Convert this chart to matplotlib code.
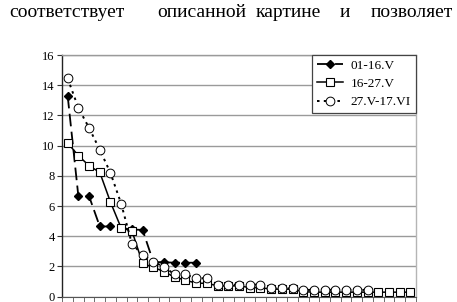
import matplotlib
matplotlib.use("Agg")
import matplotlib.pyplot as plt
import numpy as np

# ---- data ----
series_labels = ["01-16.V", "16-27.V", "27.V-17.VI"]
s1 = [13.3, 6.65, 6.65, 4.65, 4.65, 4.55, 4.45, 4.42, 2.3, 2.28, 2.25, 2.25, 2.25]
s2 = [10.18, 9.34, 8.67, 8.23, 6.26, 4.54, 4.36, 2.21, 1.95, 1.66, 1.29, 1.1, 0.89,
      0.89, 0.72, 0.72, 0.72, 0.6, 0.6, 0.5, 0.5, 0.5, 0.33, 0.3, 0.3, 0.3, 0.3,
      0.3, 0.3, 0.3, 0.3, 0.3, 0.3]
s3 = [14.45, 12.5, 11.17, 9.73, 8.19, 6.15, 3.5, 2.77, 2.32, 1.97, 1.47, 1.47, 1.22,
      1.22, 0.8, 0.8, 0.8, 0.8, 0.8, 0.55, 0.55, 0.55, 0.45, 0.45, 0.45, 0.45, 0.45,
      0.45, 0.45]
n_categories = 33
yticks = [0, 2, 4, 6, 8, 10, 12, 14, 16]
header_words = ["соответствует", "описанной", "картине", "и", "позволяет"]

plt.rcParams['font.family'] = ['Liberation Serif', 'DejaVu Serif']

W, H = 457, 302
fig = plt.figure(figsize=(W / 100, H / 100), dpi=100)
ax = fig.add_axes([62.3 / W, (H - 296.7) / H, (415.7 - 62.3) / W, (296.7 - 55) / H])

x1 = np.arange(len(s1))
x2 = np.arange(len(s2))
x3 = np.arange(len(s3))

ax.plot(x1, s1, color='black', lw=1.3, linestyle=(0, (7, 3)), marker='D',
        markersize=4.5, markerfacecolor='black', markeredgecolor='black',
        label=series_labels[0], zorder=3)
ax.plot(x2, s2, color='black', lw=1.1, linestyle='-', marker='s',
        markersize=6, markerfacecolor='white', markeredgecolor='black',
        markeredgewidth=0.8, label=series_labels[1], zorder=4)
ax.plot(x3, s3, color='black', lw=1.4, linestyle=(0, (1.3, 2.2)), marker='o',
        markersize=6.3, markerfacecolor='white', markeredgecolor='black',
        markeredgewidth=0.7, label=series_labels[2], zorder=5)

ax.set_xlim(-0.5, n_categories - 0.5)
ax.set_ylim(0, 16)
ax.set_yticks(yticks)
ax.set_yticklabels([str(v) for v in yticks], fontsize=9)
ax.set_xticks(np.arange(-0.5, n_categories, 1.0))
ax.set_xticklabels([])
ax.tick_params(axis='x', length=3.5, width=0.6, color='#555555', direction='out')
ax.tick_params(axis='y', length=3.5, width=0.8, color='#333333', direction='out', pad=2)

ax.grid(axis='y', color='#9a9a9a', lw=1.0)
ax.set_axisbelow(True)
ax.spines['left'].set_color('#222222')
ax.spines['left'].set_linewidth(1.0)
ax.spines['bottom'].set_color('#555555')
ax.spines['bottom'].set_linewidth(0.8)
ax.spines['right'].set_color('#b5b5b5')
ax.spines['right'].set_linewidth(1.0)
ax.spines['top'].set_color('#9a9a9a')
ax.spines['top'].set_linewidth(1.0)

leg = ax.legend(loc='upper right', bbox_to_anchor=(1.0, 1.0), borderaxespad=0,
                fontsize=9.5, frameon=True, fancybox=False, framealpha=1,
                edgecolor='#444444', handlelength=2.0, handletextpad=0.6,
                labelspacing=0.45, borderpad=0.35)
leg.get_frame().set_linewidth(0.9)

# header line of text (justified words), placed by word centre
word_cx = [67, 202, 288, 345, 412]
for w, xp in zip(header_words, word_cx):
    fig.text(xp / W, 1 - 17 / H, w, fontsize=14, ha='center', va='baseline')

fig.savefig("out.png", dpi=100)
